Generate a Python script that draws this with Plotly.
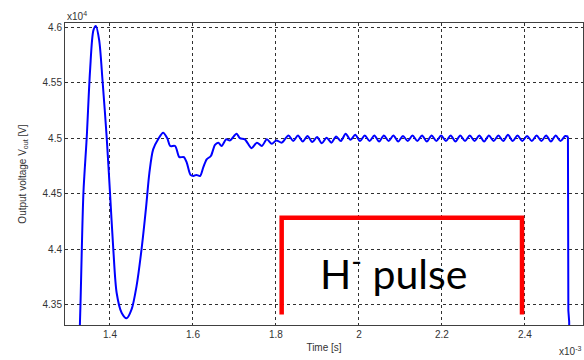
import plotly.graph_objects as go

# Time in units of 1e-3 s, voltage in units of 1e4 V
t_transient = [1.325, 1.329, 1.336, 1.344, 1.352, 1.360, 1.366, 1.374, 1.382, 1.392,
               1.400, 1.408, 1.416, 1.428, 1.440, 1.452, 1.464, 1.476, 1.487, 1.495,
               1.504, 1.516, 1.528, 1.538, 1.545, 1.557, 1.567, 1.578, 1.585, 1.594,
               1.601, 1.608, 1.617, 1.625, 1.633, 1.643, 1.653, 1.661, 1.669, 1.680,
               1.689, 1.705, 1.713, 1.725, 1.741, 1.754, 1.766, 1.778, 1.790, 1.801,
               1.814]
v_transient = [4.300, 4.352, 4.451, 4.501, 4.561, 4.597, 4.601, 4.588, 4.552, 4.501,
               4.451, 4.400, 4.361, 4.343, 4.338, 4.346, 4.367, 4.400, 4.438, 4.469,
               4.490, 4.499, 4.505, 4.500, 4.493, 4.493, 4.483, 4.483, 4.478, 4.467,
               4.466, 4.467, 4.466, 4.474, 4.481, 4.484, 4.494, 4.496, 4.493, 4.499,
               4.498, 4.504, 4.500, 4.499, 4.491, 4.496, 4.493, 4.499, 4.495, 4.498,
               4.496]

t_ripple = [1.8300, 1.8415, 1.8530, 1.8645, 1.8760, 1.8875, 1.8990, 1.9105, 1.9220, 1.9335,
            1.9450, 1.9565, 1.9680, 1.9795, 1.9910, 2.0025, 2.0140, 2.0255, 2.0370, 2.0485,
            2.0600, 2.0715, 2.0830, 2.0945, 2.1060, 2.1175, 2.1290, 2.1405, 2.1520, 2.1635,
            2.1750, 2.1865, 2.1980, 2.2095, 2.2210, 2.2325, 2.2440, 2.2555, 2.2670, 2.2785,
            2.2900, 2.3015, 2.3130, 2.3245, 2.3360, 2.3475, 2.3590, 2.3705, 2.3820, 2.3935,
            2.4050, 2.4165, 2.4280, 2.4395, 2.4510, 2.4625, 2.4740, 2.4855, 2.4970, 2.5035]
v_ripple = [4.5025, 4.4975, 4.5025, 4.4970, 4.5020, 4.4965, 4.5010, 4.4955, 4.5005, 4.4960,
            4.5015, 4.4975, 4.5040, 4.4985, 4.5030, 4.4975, 4.5025, 4.4975, 4.5025, 4.4970,
            4.5025, 4.4975, 4.5025, 4.4970, 4.5020, 4.4975, 4.5025, 4.4975, 4.5025, 4.4970,
            4.5025, 4.4975, 4.5025, 4.4975, 4.5025, 4.4970, 4.5025, 4.4975, 4.5025, 4.4975,
            4.5025, 4.4970, 4.5025, 4.4975, 4.5025, 4.4975, 4.5030, 4.4975, 4.5025, 4.4975,
            4.5020, 4.4975, 4.5025, 4.4975, 4.5025, 4.4970, 4.5025, 4.4975, 4.5020, 4.5015]

t_drop = [2.5035, 2.5045, 2.5065, 2.5070]
v_drop = [4.5015, 4.345, 4.335, 4.300]

# H- pulse bracket (time, voltage)
pulse_t = [1.8137, 1.8137, 2.3928, 2.3928]
pulse_v = [4.3414, 4.4285, 4.4285, 4.3414]

x_ticks = [1.4, 1.6, 1.8, 2.0, 2.2, 2.4]
x_tick_labels = ["1.4", "1.6", "1.8", "2", "2.2", "2.4"]
y_ticks = [4.35, 4.4, 4.45, 4.5, 4.55, 4.6]
y_tick_labels = ["4.35", "4.4", "4.45", "4.5", "4.55", "4.6"]

fig = go.Figure()
fig.add_trace(go.Scatter(x=t_transient + t_ripple, y=v_transient + v_ripple,
                         mode="lines", line=dict(color="#0000ff", width=2, shape="spline", smoothing=0.8),
                         hoverinfo="skip", showlegend=False))
fig.add_trace(go.Scatter(x=t_drop, y=v_drop, mode="lines",
                         line=dict(color="#0000ff", width=2),
                         hoverinfo="skip", showlegend=False))
fig.add_trace(go.Scatter(x=pulse_t, y=pulse_v, mode="lines",
                         line=dict(color="#ff0000", width=4.5),
                         hoverinfo="skip", showlegend=False))

axis_common = dict(showline=True, mirror=True, linecolor="#404040", linewidth=1,
                   showgrid=True, gridcolor="#303030", gridwidth=1, griddash="3px,3px",
                   zeroline=False, ticks="", automargin=False,
                   tickfont=dict(family="Liberation Sans", size=10, color="#333333"))

fig.update_layout(
    width=584, height=360,
    margin=dict(l=65, r=1, t=23, b=35),
    paper_bgcolor="white", plot_bgcolor="white",
    xaxis=dict(range=[1.2916, 2.5398], tickvals=x_ticks, ticktext=x_tick_labels,
               title=dict(text="Time [s]", font=dict(family="Liberation Sans", size=10, color="#333333"), standoff=4),
               **axis_common),
    yaxis=dict(range=[4.332, 4.6036], tickvals=y_ticks, ticktext=y_tick_labels,
               title=dict(text="Output voltage V<sub>out</sub> [V]", font=dict(family="Liberation Sans", size=10, color="#333333"), standoff=14),
               **axis_common),
)

fig.add_annotation(text="x10<sup>4</sup>", xref="paper", yref="paper", x=0, y=1,
                   xanchor="left", yanchor="bottom", showarrow=False, yshift=-1,
                   font=dict(family="Liberation Sans", size=10, color="#333333"))
fig.add_annotation(text="x10<sup>-3</sup>", xref="paper", yref="paper", x=1, y=0,
                   xanchor="right", yanchor="top", showarrow=False, yshift=-18,
                   font=dict(family="Liberation Sans", size=10, color="#333333"))
fig.add_annotation(text="H<sup>-</sup> pulse", x=2.082, y=4.381, xref="x", yref="y",
                   showarrow=False, xanchor="center", yanchor="middle",
                   font=dict(family="Lato", size=41, color="black"))

fig.write_html("out.html", config={"displayModeBar": False},
               post_script="document.body.style.margin='0';document.body.style.overflow='hidden';")
